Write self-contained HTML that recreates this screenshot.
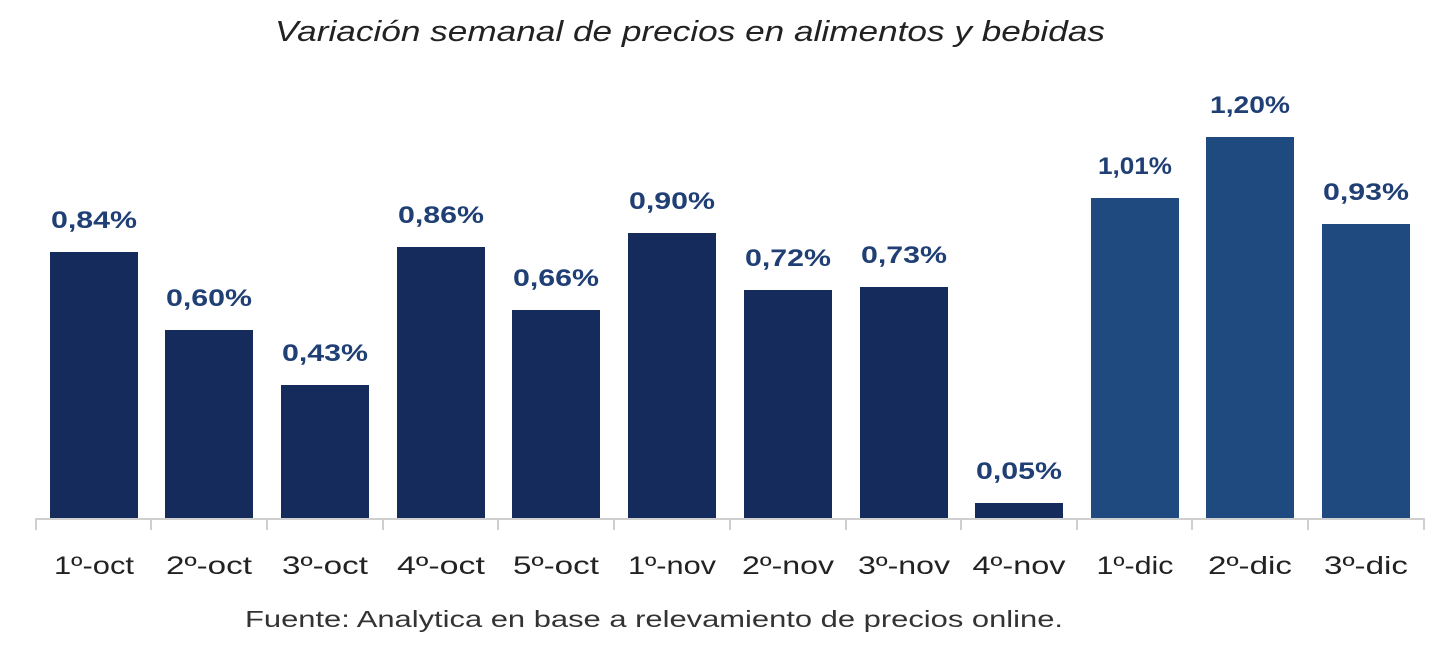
<!DOCTYPE html>
<html><head><meta charset="utf-8"><style>
html,body{margin:0;padding:0;background:#fff;}
svg{display:block;}
</style></head><body>
<svg width="1440" height="655" xmlns="http://www.w3.org/2000/svg" font-family="Liberation Sans, sans-serif">
<text x="275" y="41" font-size="29" font-style="italic" fill="#222" textLength="830" lengthAdjust="spacingAndGlyphs">Variación semanal de precios en alimentos y bebidas</text>
<g>
<rect x="50" y="252" width="88" height="266" fill="#142b5c"/>
<rect x="165" y="330" width="88" height="188" fill="#142b5c"/>
<rect x="281" y="385" width="88" height="133" fill="#142b5c"/>
<rect x="397" y="247" width="88" height="271" fill="#142b5c"/>
<rect x="512" y="310" width="88" height="208" fill="#142b5c"/>
<rect x="628" y="233" width="88" height="285" fill="#142b5c"/>
<rect x="744" y="290" width="88" height="228" fill="#142b5c"/>
<rect x="860" y="287" width="88" height="231" fill="#142b5c"/>
<rect x="975" y="503" width="88" height="15" fill="#142b5c"/>
<rect x="1091" y="198" width="88" height="320" fill="#1f4a7f"/>
<rect x="1206" y="137" width="88" height="381" fill="#1f4a7f"/>
<rect x="1322" y="224" width="88" height="294" fill="#1f4a7f"/>
</g>
<g font-size="24" font-weight="bold" fill="#1f3f75" text-anchor="middle" lengthAdjust="spacingAndGlyphs">
<text x="94" y="228" textLength="86" lengthAdjust="spacingAndGlyphs">0,84%</text>
<text x="209" y="306" textLength="86" lengthAdjust="spacingAndGlyphs">0,60%</text>
<text x="325" y="361" textLength="86" lengthAdjust="spacingAndGlyphs">0,43%</text>
<text x="441" y="223" textLength="86" lengthAdjust="spacingAndGlyphs">0,86%</text>
<text x="556" y="286" textLength="86" lengthAdjust="spacingAndGlyphs">0,66%</text>
<text x="672" y="209" textLength="86" lengthAdjust="spacingAndGlyphs">0,90%</text>
<text x="788" y="266" textLength="86" lengthAdjust="spacingAndGlyphs">0,72%</text>
<text x="904" y="263" textLength="86" lengthAdjust="spacingAndGlyphs">0,73%</text>
<text x="1019" y="479" textLength="86" lengthAdjust="spacingAndGlyphs">0,05%</text>
<text x="1135" y="174" textLength="74" lengthAdjust="spacingAndGlyphs">1,01%</text>
<text x="1250" y="113" textLength="80" lengthAdjust="spacingAndGlyphs">1,20%</text>
<text x="1366" y="200" textLength="86" lengthAdjust="spacingAndGlyphs">0,93%</text>
</g>
<g stroke="#cfcfcf" stroke-width="2">
<line x1="35" y1="519" x2="1425" y2="519"/>
<line x1="36" y1="519" x2="36" y2="530"/>
<line x1="151" y1="519" x2="151" y2="530"/>
<line x1="267" y1="519" x2="267" y2="530"/>
<line x1="383" y1="519" x2="383" y2="530"/>
<line x1="498" y1="519" x2="498" y2="530"/>
<line x1="614" y1="519" x2="614" y2="530"/>
<line x1="730" y1="519" x2="730" y2="530"/>
<line x1="846" y1="519" x2="846" y2="530"/>
<line x1="961" y1="519" x2="961" y2="530"/>
<line x1="1077" y1="519" x2="1077" y2="530"/>
<line x1="1192" y1="519" x2="1192" y2="530"/>
<line x1="1308" y1="519" x2="1308" y2="530"/>
<line x1="1424" y1="519" x2="1424" y2="530"/>
</g>
<g font-size="25" fill="#222" text-anchor="middle">
<text x="94" y="574" textLength="80" lengthAdjust="spacingAndGlyphs">1º-oct</text>
<text x="209" y="574" textLength="86" lengthAdjust="spacingAndGlyphs">2º-oct</text>
<text x="325" y="574" textLength="86" lengthAdjust="spacingAndGlyphs">3º-oct</text>
<text x="441" y="574" textLength="88" lengthAdjust="spacingAndGlyphs">4º-oct</text>
<text x="556" y="574" textLength="86" lengthAdjust="spacingAndGlyphs">5º-oct</text>
<text x="672" y="574" textLength="88" lengthAdjust="spacingAndGlyphs">1º-nov</text>
<text x="788" y="574" textLength="92" lengthAdjust="spacingAndGlyphs">2º-nov</text>
<text x="904" y="574" textLength="92" lengthAdjust="spacingAndGlyphs">3º-nov</text>
<text x="1019" y="574" textLength="93" lengthAdjust="spacingAndGlyphs">4º-nov</text>
<text x="1135" y="574" textLength="77" lengthAdjust="spacingAndGlyphs">1º-dic</text>
<text x="1250" y="574" textLength="84" lengthAdjust="spacingAndGlyphs">2º-dic</text>
<text x="1366" y="574" textLength="84" lengthAdjust="spacingAndGlyphs">3º-dic</text>
</g>
<text x="245" y="627" font-size="23" fill="#333" textLength="818" lengthAdjust="spacingAndGlyphs">Fuente: Analytica en base a relevamiento de precios online.</text>
</svg>
</body></html>
